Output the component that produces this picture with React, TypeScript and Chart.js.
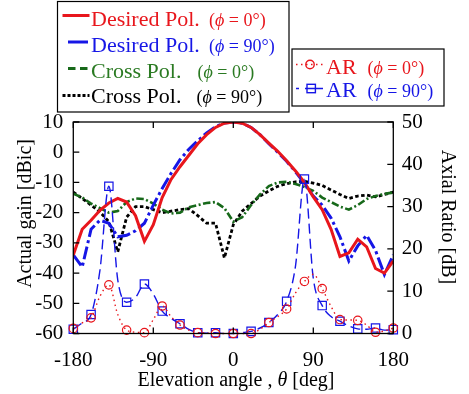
import React, { useEffect, useRef } from 'react';
import { Chart, registerables } from 'chart.js';

Chart.register(...registerables);

// ---- data ----
const angles = [
  -180, -170, -160, -150, -140, -130, -120, -110, -100, -90, -80, -70, -60, -50, -40, -30, -20, -10,
  0, 10, 20, 30, 40, 50, 60, 70, 80, 90, 100, 110, 120, 130, 140, 150, 160, 170, 180,
];

const desiredPhi0 = [
  -34, -25.5, -22.5, -19.2, -16.8, -15.3, -16.5, -21, -29.5, -24, -15, -9, -4.8, -1, 2.8, 5.8, 8.2, 9.6,
  10, 9.6, 8.2, 5.8, 3, 0.3, -2.8, -6.2, -10, -14.8, -19, -25.5, -34.5, -33.3, -28.8, -31.3, -38.5, -40, -36,
];

const desiredPhi90 = [
  -34, -38, -25.5, -22.5, -23.5, -28, -27.5, -26, -23.5, -17.5, -12, -7, -2.5, 1, 3.8, 6.4, 8.4, 9.7,
  10, 9.6, 8.2, 5.8, 2.8, 0, -3, -6.5, -10.3, -14.5, -17.5, -21.8, -28, -36, -31, -27.5, -32.5, -40.5, -34,
];

const crossPhi0 = [
  -13.7, -15, -17, -18.5, -20, -19.5, -16.5, -15.3, -15.5, -17, -19, -20.3, -20, -18.2, -17.5, -16.8, -16.5, -18.5,
  -23, -21.5, -17.5, -14, -11.2, -10, -9.8, -10.5, -11.5, -12.8, -15, -16.5, -18, -19, -17.5, -15.5, -14.5, -13.8, -13.3,
];

const crossPhi90 = [
  -13.2, -15.3, -17.5, -19.8, -23, -33, -21.5, -18, -18, -19, -20, -19.5, -19, -18.7, -21, -23.5, -23.5, -35,
  -24, -19.5, -17, -14.5, -12.8, -11.3, -10.4, -9.8, -9.6, -10.2, -11, -12.5, -14, -15.3, -14.5, -14.2, -14.8, -14, -13.2,
];

const arPhi0 = [
  1.2, 2.5, 3.7, 8.8, 11.5, 4.5, 0.8, 0.3, 0.2, 3.3, 6.5, 4, 2, 0.8, 0.2, 0.1, 0, 0,
  0, 0, 0, 1, 2.6, 4, 5.8, 9.6, 12.3, 14, 10.6, 6.4, 3.3, 3.2, 3.1, 2, 0.3, 0.6, 1.3,
];

const arPhi90 = [
  1, 2.5, 4.5, 15, 34.8, 12.7, 7.4, 8.5, 11.7, 9.3, 5.3, 3.6, 2.3, 1, 0.2, 0.1, 0.2, 0,
  0, 0.2, 0.5, 1.3, 2.6, 4.5, 7.6, 16, 36.5, 13, 6.6, 4, 2.9, 1.8, 1.1, 1, 1.3, 0.8, 0.9,
];

const gainTicks = [-60, -50, -40, -30, -20, -10, 0, 10];
const arTicks = [0, 10, 20, 30, 40, 50];
const angleTicks = [-180, -90, 0, 90, 180];

const seriesNames = ['Desired Pol.', 'Desired Pol.', 'Cross Pol.', 'Cross Pol.', 'AR', 'AR'];
const seriesPhi = ['0°', '90°', '0°', '90°', '0°', '90°'];

const xTitle = 'Elevation angle , ';
const xTitleSym = 'θ';
const xTitleUnit = ' [deg]';
const yTitle = 'Actual gain [dBic]';
const y2Title = 'Axial Ratio [dB]';

// ---- styles ----
const RED = '#e8161c';
const BLUE = '#1616e6';
const GREEN = '#17691a';
const GREEN_TXT = '#2a7a22';
const BLACK = '#000000';
const FONT = "'Liberation Serif', 'Times New Roman', serif";

const pts = (arr: number[]) => angles.map((a, i) => ({ x: a, y: arr[i] }));
const markerEvery20 = (r: number) => (c: any) => (angles[c.dataIndex] % 20 === 0 ? r : 0);

function drawRich(ctx: CanvasRenderingContext2D, x: number, y: number, phi: string, size: number, color: string) {
  ctx.fillStyle = color;
  ctx.textAlign = 'left';
  ctx.textBaseline = 'alphabetic';
  const parts: [string, boolean][] = [['(', false], ['ϕ', true], [' = ' + phi + ')', false]];
  let cx = x;
  for (const [t, it] of parts) {
    ctx.font = `${it ? 'italic ' : ''}${size}px ${FONT}`;
    ctx.fillText(t, cx, y);
    cx += ctx.measureText(t).width;
  }
}

const decorPlugin = {
  id: 'decor',
  afterDatasetsDraw(chart: any) {
    const { ctx, chartArea } = chart;
    const { left, right, top, bottom } = chartArea;
    const sx = chart.scales.x;
    const sy = chart.scales.y;
    const sy1 = chart.scales.y1;
    ctx.save();
    ctx.strokeStyle = '#000';
    ctx.lineWidth = 1.3;
    ctx.setLineDash([]);
    ctx.strokeRect(left, top, right - left, bottom - top);
    const tl = 6;
    ctx.beginPath();
    for (const v of gainTicks) {
      const y = sy.getPixelForValue(v);
      ctx.moveTo(left, y);
      ctx.lineTo(left + tl, y);
    }
    for (const v of arTicks) {
      const y = sy1.getPixelForValue(v);
      ctx.moveTo(right, y);
      ctx.lineTo(right - tl, y);
    }
    for (const v of angleTicks) {
      const x = sx.getPixelForValue(v);
      ctx.moveTo(x, bottom);
      ctx.lineTo(x, bottom - tl);
      ctx.moveTo(x, top);
      ctx.lineTo(x, top + tl);
    }
    ctx.stroke();
    ctx.restore();
  },
  afterDraw(chart: any) {
    const { ctx } = chart;
    ctx.save();
    ctx.fillStyle = '#000';
    // axis titles
    ctx.font = `20px ${FONT}`;
    ctx.textBaseline = 'alphabetic';
    ctx.textAlign = 'left';
    const w1 = ctx.measureText(xTitle).width;
    ctx.font = `italic 20px ${FONT}`;
    const w2 = ctx.measureText(xTitleSym).width;
    ctx.font = `20px ${FONT}`;
    const w3 = ctx.measureText(xTitleUnit).width;
    let tx = 236 - (w1 + w2 + w3) / 2;
    ctx.fillText(xTitle, tx, 386);
    tx += w1;
    ctx.font = `italic 20px ${FONT}`;
    ctx.fillText(xTitleSym, tx, 386);
    tx += w2;
    ctx.font = `20px ${FONT}`;
    ctx.fillText(xTitleUnit, tx, 386);

    ctx.save();
    ctx.translate(31, 213.5);
    ctx.rotate(-Math.PI / 2);
    ctx.textAlign = 'center';
    ctx.fillText(yTitle, 0, 0);
    ctx.restore();

    ctx.save();
    ctx.translate(442, 217);
    ctx.rotate(Math.PI / 2);
    ctx.textAlign = 'center';
    ctx.fillText(y2Title, 0, 0);
    ctx.restore();

    // legend 1
    ctx.strokeStyle = '#000';
    ctx.lineWidth = 1.2;
    ctx.setLineDash([]);
    ctx.strokeRect(57.5, 1.5, 231.5, 110.5);
    const colors = [RED, BLUE, GREEN, BLACK];
    const txtColors = [RED, BLUE, GREEN_TXT, BLACK];
    const baselines = [26, 51.7, 77.7, 103.3];
    const lineY = [15.5, 42, 68.5, 95.5];
    const phiX = [209, 209, 197.5, 196.5];
    for (let i = 0; i < 4; i++) {
      ctx.strokeStyle = colors[i];
      ctx.lineWidth = 3;
      ctx.beginPath();
      if (i === 0) { ctx.setLineDash([]); ctx.moveTo(62.5, lineY[i]); ctx.lineTo(89.5, lineY[i]); }
      if (i === 1) { ctx.setLineDash([]); ctx.moveTo(68, lineY[i]); ctx.lineTo(88, lineY[i]); }
      if (i === 2) { ctx.setLineDash([7.5, 4.5]); ctx.moveTo(68, lineY[i]); ctx.lineTo(88, lineY[i]); }
      if (i === 3) { ctx.setLineDash([3, 2]); ctx.moveTo(62.5, lineY[i]); ctx.lineTo(89.5, lineY[i]); }
      ctx.stroke();
      ctx.setLineDash([]);
      ctx.fillStyle = txtColors[i];
      ctx.font = `22px ${FONT}`;
      ctx.textAlign = 'left';
      ctx.fillText(seriesNames[i], 91, baselines[i]);
      drawRich(ctx, phiX[i], baselines[i], seriesPhi[i], 18, txtColors[i]);
    }

    // legend 2
    ctx.strokeStyle = '#000';
    ctx.lineWidth = 1.2;
    ctx.strokeRect(292, 49, 152, 57);
    ctx.strokeStyle = RED;
    ctx.lineWidth = 1.4;
    ctx.setLineDash([1.5, 3.5]);
    ctx.beginPath();
    ctx.moveTo(296, 64.5);
    ctx.lineTo(323, 64.5);
    ctx.stroke();
    ctx.setLineDash([]);
    ctx.beginPath();
    ctx.arc(310, 64.5, 4.2, 0, Math.PI * 2);
    ctx.stroke();
    ctx.fillStyle = RED;
    ctx.font = `22px ${FONT}`;
    ctx.fillText(seriesNames[4], 326, 74);
    drawRich(ctx, 367.5, 74, seriesPhi[4], 18, RED);
    ctx.strokeStyle = BLUE;
    ctx.lineWidth = 1.4;
    ctx.beginPath();
    ctx.moveTo(296, 88.5);
    ctx.lineTo(299, 88.5);
    ctx.moveTo(305, 88.5);
    ctx.lineTo(323, 88.5);
    ctx.stroke();
    ctx.strokeRect(307, 84.3, 8.4, 8.4);
    ctx.fillStyle = BLUE;
    ctx.font = `22px ${FONT}`;
    ctx.fillText(seriesNames[5], 326, 97);
    drawRich(ctx, 367.5, 97, seriesPhi[5], 18, BLUE);

    ctx.restore();
  },
};

export default function App() {
  const ref = useRef<HTMLCanvasElement>(null);
  useEffect(() => {
    if (!ref.current) return;
    const tickFont = { family: FONT, size: 21 };
    const chart = new Chart(ref.current, {
      type: 'line',
      data: {
        datasets: [
          {
            label: 'AR phi=0', data: pts(arPhi0), yAxisID: 'y1',
            borderColor: RED, borderWidth: 1.4, borderDash: [1.5, 3.5],
            pointStyle: 'circle', pointRadius: markerEvery20(4.2), pointBorderColor: RED,
            pointBackgroundColor: 'rgba(0,0,0,0)', pointBorderWidth: 1.2,
            cubicInterpolationMode: 'monotone', clip: false, fill: false,
          },
          {
            label: 'AR phi=90', data: pts(arPhi90), yAxisID: 'y1',
            borderColor: BLUE, borderWidth: 1.4, borderDash: [10, 5],
            pointStyle: 'rect', pointRadius: markerEvery20(5.9), pointBorderColor: BLUE,
            pointBackgroundColor: 'rgba(0,0,0,0)', pointBorderWidth: 1.2,
            cubicInterpolationMode: 'monotone', clip: false, fill: false,
          },
          {
            label: 'Desired phi=0', data: pts(desiredPhi0), yAxisID: 'y',
            borderColor: RED, borderWidth: 3, pointRadius: 0, tension: 0, fill: false,
          },
          {
            label: 'Desired phi=90', data: pts(desiredPhi90), yAxisID: 'y',
            borderColor: BLUE, borderWidth: 3, borderDash: [13, 3.5, 3, 3.5], pointRadius: 0, tension: 0, fill: false,
          },
          {
            label: 'Cross phi=0', data: pts(crossPhi0), yAxisID: 'y',
            borderColor: GREEN, borderWidth: 2.6, borderDash: [7.5, 2.5, 2, 2.5], pointRadius: 0, tension: 0, fill: false,
          },
          {
            label: 'Cross phi=90', data: pts(crossPhi90), yAxisID: 'y',
            borderColor: BLACK, borderWidth: 2.8, borderDash: [3.5, 2.5], pointRadius: 0, tension: 0, fill: false,
          },
        ],
      },
      options: {
        animation: false,
        responsive: false,
        maintainAspectRatio: false,
        devicePixelRatio: 1,
        layout: { padding: { top: 122, left: 0, right: 0, bottom: 0 } },
        plugins: { legend: { display: false }, tooltip: { enabled: false }, title: { display: false } },
        scales: {
          x: {
            type: 'linear', min: -180, max: 180,
            afterBuildTicks: (s: any) => { s.ticks = angleTicks.map((v) => ({ value: v })); },
            afterFit: (s: any) => { s.height = 60.5; },
            grid: { display: false, drawTicks: false }, border: { display: false },
            ticks: { color: '#000', font: tickFont, padding: 14, maxRotation: 0, autoSkip: false },
          },
          y: {
            type: 'linear', position: 'left', min: -60, max: 10,
            afterBuildTicks: (s: any) => { s.ticks = gainTicks.map((v) => ({ value: v })); },
            afterFit: (s: any) => { s.width = 73.3; },
            grid: { display: false, drawTicks: false }, border: { display: false },
            ticks: { color: '#000', font: tickFont, padding: 10 },
          },
          y1: {
            type: 'linear', position: 'right', min: 0, max: 50,
            afterBuildTicks: (s: any) => { s.ticks = arTicks.map((v) => ({ value: v })); },
            afterFit: (s: any) => { s.width = 469 - 393.3; },
            grid: { display: false, drawTicks: false }, border: { display: false },
            ticks: { color: '#000', font: tickFont, padding: 8.5 },
          },
        },
      },
      plugins: [decorPlugin],
    } as any);
    return () => chart.destroy();
  }, []);

  return (
    <div style={{ position: 'absolute', left: 0, top: 0, width: 469, height: 394, background: '#fff' }}>
      <canvas ref={ref} width={469} height={394} style={{ display: 'block', width: 469, height: 394 }} />
    </div>
  );
}
